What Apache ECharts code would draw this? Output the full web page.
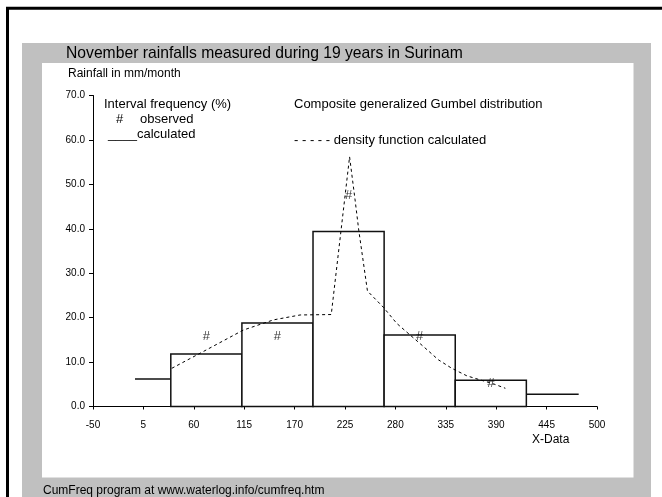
<!DOCTYPE html>
<html>
<head>
<meta charset="utf-8">
<script src="https://cdn.jsdelivr.net/npm/echarts@6/dist/echarts.min.js"></script>
<style>
html, body { margin: 0; padding: 0; background: #fff; }
#chart { width: 662px; height: 497px; }
</style>
</head>
<body>
<div id="chart"></div>
<script>
// interval edges in mm/month (first and last interval are open tails)
const edges = [-4.2, 34.9, 112.5, 190.1, 267.7, 345.3, 422.9, 480]
// calculated interval frequency (%)
const calcFreq = [6.2, 11.8, 18.8, 39.4, 16.1, 5.9, 2.75]
// observed interval frequency (%), at interval centres
const obsX = [73.7, 151.3, 228.9, 306.5, 384.1]
const obsFreq = [15.8, 15.8, 47.4, 15.8, 5.3]
// density function calculated (composite generalized Gumbel)
const densX = [36, 67, 114, 147, 176, 210, 230, 236, 240, 249.5, 267, 281.5, 296, 310.6, 327, 341.5, 358, 372.4, 387, 400]
const densY = [8.6, 12.0, 17.2, 19.5, 20.6, 20.7, 56.2, 46.5, 39.7, 26.0, 22.3, 18.7, 16.1, 13.5, 10.5, 8.6, 6.9, 6.0, 5.1, 4.1]
// axis scales
const xMin = -50
const xMax = 500
const xStep = 55
const yMax = 70
const yStep = 10

const font = 'Liberation Sans, Arial, sans-serif'
const chart = echarts.init(document.getElementById('chart'))

const bins = calcFreq.map((v, i) => [edges[i], edges[i + 1], v])

function txt (x, y, text, size) {
  return {
    type: 'text',
    x: x,
    y: y,
    z: 10,
    style: { text: text, fill: '#000', font: size + 'px ' + font, textVerticalAlign: 'middle' }
  }
}

chart.setOption({
  animation: false,
  backgroundColor: '#fff',
  grid: { left: 93, right: 65, top: 95.5, bottom: 90.5 },
  xAxis: {
    type: 'value',
    min: xMin,
    max: xMax,
    interval: xStep,
    splitLine: { show: false },
    axisLine: { onZero: false, lineStyle: { color: '#000', width: 1 } },
    axisTick: { length: 3, lineStyle: { color: '#000' } },
    axisLabel: { margin: 14, fontSize: 10, color: '#000', fontFamily: font }
  },
  yAxis: {
    type: 'value',
    min: 0,
    max: yMax,
    interval: yStep,
    splitLine: { show: false },
    axisLine: { show: true, onZero: false, lineStyle: { color: '#000', width: 1 } },
    axisTick: { show: true, length: 4, lineStyle: { color: '#000' } },
    axisLabel: { margin: 8, fontSize: 10, color: '#000', fontFamily: font, formatter: v => v.toFixed(1) }
  },
  graphic: [
    // frame, grey panel, white plot panel
    { type: 'rect', z: -10, shape: { x: 7.5, y: 8.2, width: 720, height: 600 }, style: { fill: null, stroke: '#000', lineWidth: 3 } },
    { type: 'rect', z: -9, shape: { x: 22, y: 43, width: 629, height: 500 }, style: { fill: '#c0c0c0' } },
    { type: 'rect', z: -8, shape: { x: 42, y: 63, width: 591.5, height: 414.5 }, style: { fill: '#fff' } },
    txt(66, 53.5, 'November rainfalls measured during 19 years in Surinam', 15.7),
    txt(68, 74, 'Rainfall in mm/month', 12),
    txt(104, 104, 'Interval frequency (%)', 13),
    txt(116, 119, '#', 13),
    txt(140, 119, 'observed', 13),
    txt(108, 134, '____calculated', 13),
    txt(294, 104, 'Composite generalized Gumbel distribution', 13),
    txt(294, 140, '- - - - - density function calculated', 13),
    txt(532, 440, 'X-Data', 12),
    txt(43, 491, 'CumFreq program at www.waterlog.info/cumfreq.htm', 12)
  ],
  series: [
    {
      name: 'calculated',
      type: 'custom',
      data: bins,
      encode: { x: [0, 1], y: 2 },
      z: 2,
      renderItem: function (params, api) {
        const p0 = api.coord([api.value(0), api.value(2)])
        const p1 = api.coord([api.value(1), 0])
        const open = params.dataIndex === 0 || params.dataIndex === bins.length - 1
        if (open) {
          return {
            type: 'line',
            shape: { x1: p0[0], y1: p0[1], x2: p1[0], y2: p0[1] },
            style: { stroke: '#111', lineWidth: 1.5 }
          }
        }
        return {
          type: 'rect',
          shape: { x: p0[0], y: p0[1], width: p1[0] - p0[0], height: p1[1] - p0[1] },
          style: { fill: '#fff', stroke: '#111', lineWidth: 1.5 }
        }
      }
    },
    {
      name: 'density function calculated',
      type: 'line',
      z: 3,
      showSymbol: false,
      data: densX.map((x, i) => [x, densY[i]]),
      lineStyle: { color: '#000', width: 1, type: [3, 3] }
    },
    {
      name: 'observed',
      type: 'scatter',
      z: 4,
      symbolSize: 1,
      itemStyle: { color: 'rgba(0,0,0,0)' },
      data: obsX.map((x, i) => [x, obsFreq[i]]),
      label: { show: true, position: 'inside', formatter: '#', fontSize: 13, color: '#000', fontFamily: font }
    }
  ]
})
</script>
</body>
</html>
